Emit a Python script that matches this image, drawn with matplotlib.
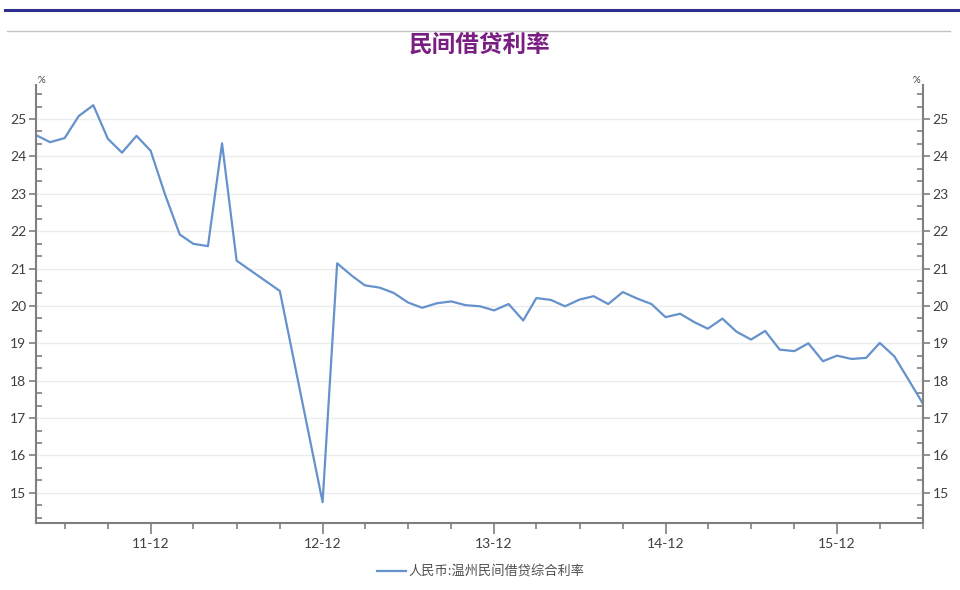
import matplotlib
matplotlib.use("Agg")
import matplotlib.pyplot as plt
import matplotlib.dates as mdates
from matplotlib.ticker import MultipleLocator
import pandas as pd

plt.rcParams['font.family'] = ['Lato', 'Noto Sans CJK SC', 'DejaVu Sans']

# monthly composite private lending rate, Wenzhou (%)
months = [
    "2011-04", "2011-05", "2011-06", "2011-07", "2011-08", "2011-09", "2011-10",
    "2011-11", "2011-12", "2012-01", "2012-02", "2012-03", "2012-04", "2012-05",
    "2012-06", "2012-09", "2012-12", "2013-01", "2013-02", "2013-03", "2013-04",
    "2013-05", "2013-06", "2013-07", "2013-08", "2013-09", "2013-10", "2013-11",
    "2013-12", "2014-01", "2014-02", "2014-03", "2014-04", "2014-05", "2014-06",
    "2014-07", "2014-08", "2014-09", "2014-10", "2014-11", "2014-12", "2015-01",
    "2015-02", "2015-03", "2015-04", "2015-05", "2015-06", "2015-07", "2015-08",
    "2015-09", "2015-10", "2015-11", "2015-12", "2016-01", "2016-02", "2016-03",
    "2016-04", "2016-05", "2016-06",
]
rates = [
    24.57, 24.38, 24.49, 25.08, 25.37, 24.47, 24.10,
    24.55, 24.15, 22.97, 21.91, 21.66, 21.60, 24.35,
    21.21, 20.40, 14.75, 21.14, 20.81, 20.55, 20.49,
    20.35, 20.09, 19.95, 20.07, 20.12, 20.02, 19.99,
    19.88, 20.05, 19.61, 20.21, 20.16, 19.99, 20.17,
    20.26, 20.05, 20.37, 20.20, 20.05, 19.70, 19.79,
    19.56, 19.39, 19.66, 19.31, 19.10, 19.33, 18.83,
    18.79, 19.00, 18.52, 18.67, 18.58, 18.61, 19.01,
    18.65, 18.03, 17.38,
]
series_name = "人民币:温州民间借贷综合利率"
title = "民间借贷利率"

dates = pd.to_datetime(months)

fig = plt.figure(figsize=(9.6, 5.9), dpi=100)

# header rules
fig.add_artist(plt.Line2D([5 / 960, 1.0], [1 - 10 / 590] * 2, color="#2e2e8f", lw=2.2))
fig.add_artist(plt.Line2D([7 / 960, 950 / 960], [1 - 31 / 590] * 2, color="#c4c4c4", lw=1.0))
fig.text(0.5, 1 - 45 / 590, title, ha="center", va="center", fontsize=17,
         fontweight="bold", color="#7a1f82", family=["Noto Sans CJK SC", "DejaVu Sans"])

ax = fig.add_axes([36 / 960, 1 - 522.7 / 590, (923 - 36) / 960, (522.7 - 85) / 590])

line, = ax.plot(dates, rates, color="#6592cc", lw=1.6, label=series_name)

ax.set_xlim(pd.Timestamp("2011-04-01"), pd.Timestamp("2016-06-01"))
ax.set_ylim(14.2, 25.91)

ax.yaxis.set_major_locator(MultipleLocator(1))
ax.yaxis.set_minor_locator(MultipleLocator(1 / 3))
ax.set_yticks(range(15, 26))
ax.xaxis.set_major_locator(mdates.MonthLocator(bymonth=[12]))
ax.xaxis.set_minor_locator(mdates.MonthLocator(bymonth=[3, 6, 9, 12]))
ax.xaxis.set_major_formatter(mdates.DateFormatter("%y-%m"))

ax.grid(axis="y", which="major", color="#ececec", lw=1.0)
ax.set_axisbelow(True)

for side in ["left", "right", "bottom"]:
    ax.spines[side].set_color("#7f7f7f")
    ax.spines[side].set_linewidth(1.5)
ax.spines["top"].set_visible(False)

ax.tick_params(axis="y", which="major", direction="out", length=5, width=1.2,
               color="#7f7f7f", labelsize=10, labelcolor="#404040", pad=2,
               left=True, right=True, labelleft=True, labelright=True)
ax.tick_params(axis="y", which="minor", direction="in", length=4, width=1.2,
               color="#7f7f7f", left=True, right=True)
ax.tick_params(axis="x", which="major", direction="out", length=8, width=1.2,
               color="#7f7f7f", labelsize=10, labelcolor="#404040", pad=3)
ax.tick_params(axis="x", which="minor", direction="out", length=4, width=1.2,
               color="#7f7f7f")

# unit markers above both value axes
fig.text(38 / 960, 1 - 85 / 590, "%", fontsize=7, color="#404040", ha="left", va="bottom")
fig.text(920 / 960, 1 - 85 / 590, "%", fontsize=7, color="#404040", ha="right", va="bottom")

fig.legend(handles=[line], loc="center", bbox_to_anchor=(481 / 960, 1 - 572 / 590),
           frameon=False, fontsize=9.5, handlelength=2.2, handletextpad=0.2,
           labelcolor="#505050", prop={"family": ["Noto Sans CJK SC", "DejaVu Sans"], "size": 9.5})

fig.savefig("out.png", dpi=100, facecolor="white")
